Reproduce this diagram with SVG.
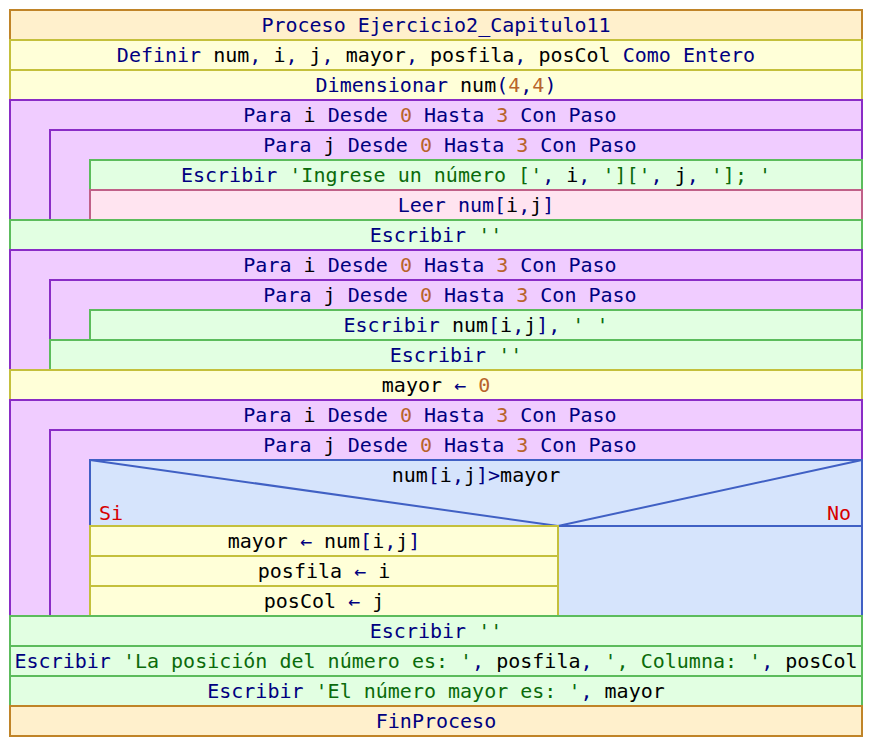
<svg xmlns="http://www.w3.org/2000/svg" width="872" height="746" viewBox="0 0 872 746">
  <style>
    text { font-family: "DejaVu Sans Mono", "Liberation Mono", monospace; font-size: 20px; text-anchor: middle; white-space: pre; fill: #000080; }
    .k { fill: #000080; }
    .v { fill: #000000; }
    .s { fill: #0b6b0b; }
    .n { fill: #b8642c; }
    .r { fill: #d80000; }
    rect, line, polyline { stroke-width: 2; }
    .proc { fill: #fff0cc; stroke: #c08428; }
    .asig { fill: #ffffd8; stroke: #c4c03c; }
    .para { fill: #f0ccff; stroke: #8a2cc6; }
    .esc { fill: #e2ffe2; stroke: #5cbc5c; }
    .leer { fill: #ffe4f0; stroke: #c06088; }
    .si { fill: #d6e4fc; stroke: #4060c4; }
    .siline { fill: none; stroke: #4060c4; }
  </style>

  <g id="proceso">
    <rect class="proc" x="10" y="10" width="852" height="30"/>
    <text x="436" y="31.5"><tspan class="k">Proceso Ejercicio2_Capitulo11</tspan></text>
  </g>

  <g id="definir">
    <rect class="asig" x="10" y="40" width="852" height="30"/>
    <text x="436" y="61.5"><tspan class="k">Definir </tspan><tspan class="v">num</tspan><tspan class="k">, </tspan><tspan class="v">i</tspan><tspan class="k">, </tspan><tspan class="v">j</tspan><tspan class="k">, </tspan><tspan class="v">mayor</tspan><tspan class="k">, </tspan><tspan class="v">posfila</tspan><tspan class="k">, </tspan><tspan class="v">posCol</tspan><tspan class="k"> Como Entero</tspan></text>
  </g>

  <g id="dimensionar">
    <rect class="asig" x="10" y="70" width="852" height="30"/>
    <text x="436" y="91.5"><tspan class="k">Dimensionar </tspan><tspan class="v">num</tspan><tspan class="k">(</tspan><tspan class="n">4</tspan><tspan class="k">,</tspan><tspan class="n">4</tspan><tspan class="k">)</tspan></text>
  </g>

  <!-- first nested loop: read the matrix -->
  <g id="para1_i">
    <rect class="para" x="10" y="100" width="852" height="120"/>
    <text x="430" y="121.5"><tspan class="k">Para </tspan><tspan class="v">i</tspan><tspan class="k"> Desde </tspan><tspan class="n">0</tspan><tspan class="k"> Hasta </tspan><tspan class="n">3</tspan><tspan class="k"> Con Paso</tspan></text>
  </g>
  <g id="para1_j">
    <rect class="para" x="50" y="130" width="812" height="90"/>
    <text x="450" y="151.5"><tspan class="k">Para </tspan><tspan class="v">j</tspan><tspan class="k"> Desde </tspan><tspan class="n">0</tspan><tspan class="k"> Hasta </tspan><tspan class="n">3</tspan><tspan class="k"> Con Paso</tspan></text>
  </g>
  <g id="escribir_ingrese">
    <rect class="esc" x="90" y="160" width="772" height="30"/>
    <text x="476" y="181.5"><tspan class="k">Escribir </tspan><tspan class="s">'Ingrese un número ['</tspan><tspan class="k">, </tspan><tspan class="v">i</tspan><tspan class="k">, </tspan><tspan class="s">']['</tspan><tspan class="k">, </tspan><tspan class="v">j</tspan><tspan class="k">, </tspan><tspan class="s">']; '</tspan></text>
  </g>
  <g id="leer">
    <rect class="leer" x="90" y="190" width="772" height="30"/>
    <text x="476" y="211.5"><tspan class="k">Leer num[</tspan><tspan class="v">i</tspan><tspan class="k">,</tspan><tspan class="v">j</tspan><tspan class="k">]</tspan></text>
  </g>

  <g id="escribir_vacio1">
    <rect class="esc" x="10" y="220" width="852" height="30"/>
    <text x="436" y="241.5"><tspan class="k">Escribir </tspan><tspan class="s">''</tspan></text>
  </g>

  <!-- second nested loop: print the matrix -->
  <g id="para2_i">
    <rect class="para" x="10" y="250" width="852" height="120"/>
    <text x="430" y="271.5"><tspan class="k">Para </tspan><tspan class="v">i</tspan><tspan class="k"> Desde </tspan><tspan class="n">0</tspan><tspan class="k"> Hasta </tspan><tspan class="n">3</tspan><tspan class="k"> Con Paso</tspan></text>
  </g>
  <g id="para2_j">
    <rect class="para" x="50" y="280" width="812" height="60"/>
    <text x="450" y="301.5"><tspan class="k">Para </tspan><tspan class="v">j</tspan><tspan class="k"> Desde </tspan><tspan class="n">0</tspan><tspan class="k"> Hasta </tspan><tspan class="n">3</tspan><tspan class="k"> Con Paso</tspan></text>
  </g>
  <g id="escribir_num">
    <rect class="esc" x="90" y="310" width="772" height="30"/>
    <text x="476" y="331.5"><tspan class="k">Escribir </tspan><tspan class="v">num</tspan><tspan class="k">[</tspan><tspan class="v">i</tspan><tspan class="k">,</tspan><tspan class="v">j</tspan><tspan class="k">], </tspan><tspan class="s">' '</tspan></text>
  </g>
  <g id="escribir_vacio2">
    <rect class="esc" x="50" y="340" width="812" height="30"/>
    <text x="456" y="361.5"><tspan class="k">Escribir </tspan><tspan class="s">''</tspan></text>
  </g>

  <g id="mayor_cero">
    <rect class="asig" x="10" y="370" width="852" height="30"/>
    <text x="436" y="391.5"><tspan class="v">mayor</tspan><tspan class="k"> ← </tspan><tspan class="n">0</tspan></text>
  </g>

  <!-- third nested loop: search the largest value -->
  <g id="para3_i">
    <rect class="para" x="10" y="400" width="852" height="216"/>
    <text x="430" y="421.5"><tspan class="k">Para </tspan><tspan class="v">i</tspan><tspan class="k"> Desde </tspan><tspan class="n">0</tspan><tspan class="k"> Hasta </tspan><tspan class="n">3</tspan><tspan class="k"> Con Paso</tspan></text>
  </g>
  <g id="para3_j">
    <rect class="para" x="50" y="430" width="812" height="186"/>
    <text x="450" y="451.5"><tspan class="k">Para </tspan><tspan class="v">j</tspan><tspan class="k"> Desde </tspan><tspan class="n">0</tspan><tspan class="k"> Hasta </tspan><tspan class="n">3</tspan><tspan class="k"> Con Paso</tspan></text>
  </g>
  <g id="si_mayor">
    <rect class="si" x="90" y="460" width="772" height="156"/>
    <line class="siline" x1="90" y1="526" x2="862" y2="526"/>
    <polyline class="siline" points="90,460 558,526 862,460"/>
    <text x="476" y="481.5"><tspan class="v">num</tspan><tspan class="k">[</tspan><tspan class="v">i</tspan><tspan class="k">,</tspan><tspan class="v">j</tspan><tspan class="k">]&gt;</tspan><tspan class="v">mayor</tspan></text>
    <text class="r" x="99" y="520" style="text-anchor:start">Si</text>
    <text class="r" x="851" y="520" style="text-anchor:end">No</text>
  </g>
  <g id="asig_mayor">
    <rect class="asig" x="90" y="526" width="468" height="30"/>
    <text x="324" y="547.5"><tspan class="v">mayor</tspan><tspan class="k"> ← </tspan><tspan class="v">num</tspan><tspan class="k">[</tspan><tspan class="v">i</tspan><tspan class="k">,</tspan><tspan class="v">j</tspan><tspan class="k">]</tspan></text>
  </g>
  <g id="asig_posfila">
    <rect class="asig" x="90" y="556" width="468" height="30"/>
    <text x="324" y="577.5"><tspan class="v">posfila</tspan><tspan class="k"> ← </tspan><tspan class="v">i</tspan></text>
  </g>
  <g id="asig_poscol">
    <rect class="asig" x="90" y="586" width="468" height="30"/>
    <text x="324" y="607.5"><tspan class="v">posCol</tspan><tspan class="k"> ← </tspan><tspan class="v">j</tspan></text>
  </g>

  <g id="escribir_vacio3">
    <rect class="esc" x="10" y="616" width="852" height="30"/>
    <text x="436" y="637.5"><tspan class="k">Escribir </tspan><tspan class="s">''</tspan></text>
  </g>
  <g id="escribir_posicion">
    <rect class="esc" x="10" y="646" width="852" height="30"/>
    <text x="436" y="667.5"><tspan class="k">Escribir </tspan><tspan class="s">'La posición del número es: '</tspan><tspan class="k">, </tspan><tspan class="v">posfila</tspan><tspan class="k">, </tspan><tspan class="s">', Columna: '</tspan><tspan class="k">, </tspan><tspan class="v">posCol</tspan></text>
  </g>
  <g id="escribir_mayor">
    <rect class="esc" x="10" y="676" width="852" height="30"/>
    <text x="436" y="697.5"><tspan class="k">Escribir </tspan><tspan class="s">'El número mayor es: '</tspan><tspan class="k">, </tspan><tspan class="v">mayor</tspan></text>
  </g>
  <g id="finproceso">
    <rect class="proc" x="10" y="706" width="852" height="30"/>
    <text x="436" y="727.5"><tspan class="k">FinProceso</tspan></text>
  </g>
</svg>
